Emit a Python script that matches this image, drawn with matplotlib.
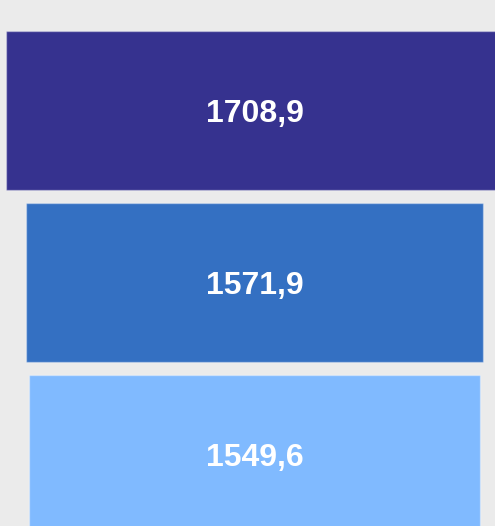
import matplotlib.pyplot as plt

stages = ["Stage 1", "Stage 2", "Stage 3"]
values = [1708.9, 1571.9, 1549.6]
colors = ["#36328f", "#3470c2", "#80baff"]

plt.rcParams["font.family"] = ["Liberation Sans", "DejaVu Sans"]

fig = plt.figure(figsize=(4.95, 5.26), dpi=100)
fig.patch.set_facecolor("#ebebeb")
ax = fig.add_axes([0, 0, 1, 1])
ax.set_facecolor("#ebebeb")

pos = list(range(len(values)))
ax.barh(pos, values, left=[-v / 2 for v in values], height=0.93,
        color=colors, edgecolor=(1, 1, 1, 0.35), linewidth=1)

for p, v in zip(pos, values):
    label = f"{v:.1f}".replace(".", ",")
    ax.text(0, p + 0.02, label, ha="center", va="center", color="white",
            fontsize=23, fontweight="bold")

ax.set_xlim(-875.2, 827.0)
ax.set_ylim(2.4157, -0.6424)
ax.axis("off")

fig.savefig("out.png", dpi=100, facecolor=fig.get_facecolor())
